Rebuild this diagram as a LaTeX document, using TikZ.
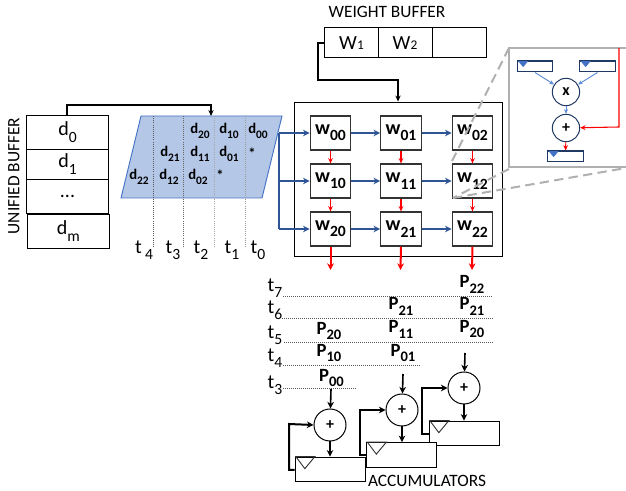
\documentclass[tikz,border=0pt]{standalone}
\usepackage{fontspec}
\setmainfont{Carlito}
\usetikzlibrary{arrows.meta}
\definecolor{bluefill}{HTML}{B4C7E7}
\definecolor{darkblue}{HTML}{2F5597}
\definecolor{navy}{HTML}{203864}
\definecolor{midblue}{HTML}{4472C4}
\definecolor{ltblue}{HTML}{5B8BD6}
\definecolor{insetgray}{HTML}{B0B0B0}
\newcommand{\lowsub}[1]{\raisebox{-0.32em}{\scalebox{0.78}{#1}}}
\tikzset{
 px/.style={x=0.75pt,y=-0.75pt},
 cell/.style={draw=black,line width=0.7pt,minimum width=62pt,inner sep=0pt,font=\fontsize{15}{15}\selectfont},
 pe/.style={draw=black!80,fill=white,line width=0.85pt,minimum width=30.5pt,minimum height=25.5pt,inner sep=0pt,font=\fontsize{15}{15}\selectfont\bfseries},
 reg/.style={draw=navy,fill=white,line width=0.8pt,minimum width=26.5pt,minimum height=8.2pt,inner sep=0pt},
 acc/.style={draw=black,fill=white,line width=0.75pt,minimum width=52.5pt,minimum height=18.5pt,inner sep=0pt},
 op/.style={circle,draw=black,fill=white,line width=0.75pt,minimum size=24pt,inner sep=0pt,font=\fontsize{12}{12}\selectfont\bfseries},
 iop/.style={circle,draw=navy,fill=white,line width=0.75pt,minimum size=20.5pt,inner sep=0pt,font=\fontsize{12}{12}\selectfont\bfseries},
 lab/.style={inner sep=0pt,font=\fontsize{13}{13}\selectfont},
 tl/.style={inner sep=0pt,font=\fontsize{15}{15}\selectfont},
 dat/.style={inner sep=0pt,font=\fontsize{11}{11}\selectfont\bfseries},
 prd/.style={inner sep=0pt,font=\fontsize{14}{14}\selectfont\bfseries},
 blk/.style={draw=black,line width=1pt,-{Stealth[length=4.5pt,width=4pt]}},
 thk/.style={draw=black,line width=1.5pt,-{Stealth[length=5pt,width=5pt]}},
 blu/.style={draw=darkblue,line width=1.3pt,-{Stealth[length=5pt,width=5pt]}},
 redv/.style={draw=red,line width=0.9pt,-{Stealth[length=4pt,width=3.5pt]}},
 redo/.style={draw=red,line width=1.5pt,-{Stealth[length=5pt,width=5pt]}},
 ibl/.style={draw=ltblue,line width=0.7pt,-{Stealth[length=3.5pt,width=3pt]}},
 tline/.style={draw=black!65,line width=0.5pt,densely dotted},
 gdash/.style={draw=insetgray,line width=1.5pt,dash pattern=on 7pt off 4pt},
}
\begin{document}
\begin{tikzpicture}[px]
\useasboundingbox (0,0) rectangle (626,491);
% unified buffer
\node[lab,rotate=90] (ubt) at (14,176) {UNIFIED BUFFER};
\node[cell,minimum height=25.5pt] (d0) at (67.5,132) {d\lowsub{0}};
\node[cell,minimum height=22.5pt] (d1) at (67.5,164) {\raisebox{-3pt}{d\lowsub{1}}};
\node[cell,minimum height=25.5pt] (d2) at (67.5,196) {\raisebox{-3pt}{...}};
\node[cell,minimum height=25.5pt] (dm) at (68.3,231) {d\lowsub{m}};
% data parallelogram
\path[fill=bluefill,draw=midblue,line width=0.7pt] (141,116) coordinate (pa) -- (282,116) coordinate (pb) -- (262,198) coordinate (pc) -- (121,198) coordinate (pd) -- cycle;
\coordinate (pin) at (211,116);
\coordinate (ubo) at (67,115);
\draw[blk,line width=1.3pt] (ubo) -- (67,105) -- (211,105) -- (pin);
\foreach \n/\x/\c in {a/153/black!65,b/183/black!60,c/214/black!35,d/245/black!40}{
 \coordinate (tt\n) at (\x,116);
 \coordinate (tb\n) at (\x,247);
 \draw[draw=\c,line width=0.6pt,densely dotted] (tt\n) -- (tb\n);
}
\node[dat] (d20) at (200,131) {d\lowsub{20}};
\node[dat] (d10) at (229,131) {d\lowsub{10}};
\node[dat] (d00) at (258,131) {d\lowsub{00}};
\node[dat] (d21) at (170,154) {d\lowsub{21}};
\node[dat] (d11) at (200,154) {d\lowsub{11}};
\node[dat] (d01) at (229,154) {d\lowsub{01}};
\node[dat] (st1) at (252,153) {*};
\node[dat] (d22) at (139,177) {d\lowsub{22}};
\node[dat] (d12) at (169,177) {d\lowsub{12}};
\node[dat] (d02) at (198,177) {d\lowsub{02}};
\node[dat] (st2) at (220,175) {*};
\node[tl] (t4a) at (144,250) {t\,\lowsub{4}};
\node[tl] (t3a) at (173,250) {t\lowsub{3}};
\node[tl] (t2a) at (201,250) {t\lowsub{2}};
\node[tl] (t1a) at (232,250) {t\lowsub{1}};
\node[tl] (t0a) at (258,250) {t\lowsub{0}};
% weight buffer
\node[lab] (wbt) at (387,12) {WEIGHT BUFFER};
\node[draw=black,line width=0.75pt,minimum width=40pt,minimum height=22.5pt,inner sep=0pt,font=\fontsize{15}{15}\selectfont] (w1) at (351.5,43) {W\fontsize{10}{10}\selectfont\raisebox{-0.3pt}{1}};
\node[draw=black,line width=0.75pt,minimum width=40.5pt,minimum height=22.5pt,inner sep=0pt,font=\fontsize{15}{15}\selectfont] (w2) at (405,43) {W\fontsize{10}{10}\selectfont\raisebox{-0.3pt}{2}};
\node[draw=black,line width=0.75pt,minimum width=40.5pt,minimum height=22.5pt,inner sep=0pt] (w3) at (459,43) {};
% array
\node[draw=black,line width=0.7pt,minimum width=156pt,minimum height=115.5pt,inner sep=0pt] (arr) at (398,179) {};
\draw[blk] (w1.west) -- (318,43) -- (318,80) -- (398,80) -- (arr.north);
\foreach \nm/\cx/\cy/\t in {w00/330.5/133/00,w01/401/133/01,w02/472.5/133/02,w10/330.5/181/10,w11/401/181/11,w12/472.5/181/12,w20/330.5/229/20,w21/401/229/21,w22/472.5/229/22}{
 \node[pe] (\nm) at (\cx,\cy) {w\lowsub{\t}};
}
% blue feed
\coordinate (bs0) at (279,133);
\coordinate (bs1) at (279,181);
\coordinate (bs2) at (279,229);
\draw[draw=darkblue,line width=1.3pt] (bs0) -- (bs2);
\draw[blu] (bs0) -- (w00);
\draw[blu] (bs1) -- (w10);
\draw[blu] (bs2) -- (w20);
\foreach \a/\b in {w00/w01,w01/w02,w10/w11,w11/w12,w20/w21,w21/w22}{\draw[blu] (\a) -- (\b);}
\foreach \a/\b in {w00/w10,w01/w11,w02/w12,w10/w20,w11/w21,w12/w22}{\draw[redv] (\a) -- (\b);}
\coordinate (ro0) at (330.5,270);
\coordinate (ro1) at (400.5,270);
\coordinate (ro2) at (472,270);
\draw[redo] (w20.south) -- (ro0);
\draw[redo] (w21.south) -- (ro1);
\draw[redo] (w22.south) -- (ro2);
% zoom lines
\coordinate (z1) at (509,48);
\coordinate (z2) at (450,165);
\coordinate (z3) at (509,169);
\coordinate (z4) at (453,198);
\coordinate (z5) at (626,168);
\draw[gdash] (z1) -- (z2);
\draw[gdash] (z3) -- (z4);
\draw[gdash] (z4) -- (z5);
% inset
\path[fill=white] (509,48) rectangle (626,167);
\draw[draw=insetgray,line width=1.3pt] (626,48) -- (509,48) -- (509,167) -- (626,167);
\node[reg] (r1) at (535,66.5) {};
\node[reg] (r2) at (597.5,66.5) {};
\node[reg] (r3) at (565.5,156.5) {};
\foreach \r in {r1,r2,r3}{
 \fill[midblue] ([xshift=1pt,yshift=-0.5pt]\r.north west) -- ++(10,0) -- ++(-5,6) -- cycle;
}
\node[iop] (mul) at (566,92) {x};
\node[iop] (add) at (566,128) {+};
\draw[ibl] (r1.south) -- (mul);
\draw[ibl] (r2.south) -- (mul);
\draw[ibl] (mul) -- (add);
\draw[redv,line width=0.7pt] (add) -- (r3);
\coordinate (rt) at (619,48);
\draw[redv,line width=0.8pt] (rt) -- (619,127) -- (add);
% time lines
\foreach \n/\sx/\ex/\y in {7/283/492/296,6/282/493/318,5/284/493/342,4/283/421/365,3/283/357/388}{
 \coordinate (ls\n) at (\sx,\y);
 \coordinate (le\n) at (\ex,\y);
 \draw[tline] (ls\n) -- (le\n);
}
\node[tl] (t7) at (275,288) {t\lowsub{7}};
\node[tl] (t6) at (275,310) {t\lowsub{6}};
\node[tl] (t5) at (275,335) {t\lowsub{5}};
\node[tl] (t4) at (275,358) {t\lowsub{4}};
\node[tl] (t3) at (275,385) {t\lowsub{3}};
\node[prd] (p22) at (472,284) {P\lowsub{22}};
\node[prd] (p21b) at (472,306) {P\lowsub{21}};
\node[prd] (p20b) at (472,329) {P\lowsub{20}};
\node[prd] (p21) at (401,306) {P\lowsub{21}};
\node[prd] (p11) at (401,329) {P\lowsub{11}};
\node[prd] (p01) at (403,353) {P\lowsub{01}};
\node[prd] (p20) at (329,331) {P\lowsub{20}};
\node[prd] (p10) at (329,353) {P\lowsub{10}};
\node[prd] (p00) at (331.5,378) {P\lowsub{00}};
% accumulators
\node[op] (c1) at (330,425) {+};
\node[op] (c2) at (402,410) {+};
\node[op] (c3) at (464,388) {+};
\node[acc] (a3) at (464,433.5) {};
\node[acc] (a2) at (401.5,455) {};
\node[acc] (a1) at (330,469.5) {};
\foreach \r in {a1,a2,a3}{
 \draw[draw=black!80,line width=0.7pt] ([xshift=1pt]\r.north west) -- ++(19,0) -- ++(-10,12) -- cycle;
}
\coordinate (i1) at (331,389);
\coordinate (i2) at (403,374);
\coordinate (i3) at (465,353);
\draw[thk,line width=1.2pt] (i1) -- (c1);
\draw[thk,line width=1.2pt] (i2) -- (c2);
\draw[thk,line width=1.2pt] (i3) -- (c3);
\draw[thk,line width=1.2pt] (c1) -- (a1.north-|c1);
\draw[thk,line width=1.2pt] (c2) -- (a2.north-|c2);
\draw[thk,line width=1.2pt] (c3) -- (a3.north-|c3);
\draw[thk] (a1.west|-0,470) -- (289,470) -- (289,424) -- (c1.west);
\draw[thk] (a2.west|-0,455) -- (360,455) -- (360,410) -- (c2.west);
\draw[thk] (a3.west|-0,434) -- (422,434) -- (422,388) -- (c3.west);
\node[lab] (act) at (427,481) {ACCUMULATORS};
\end{tikzpicture}
\end{document}
